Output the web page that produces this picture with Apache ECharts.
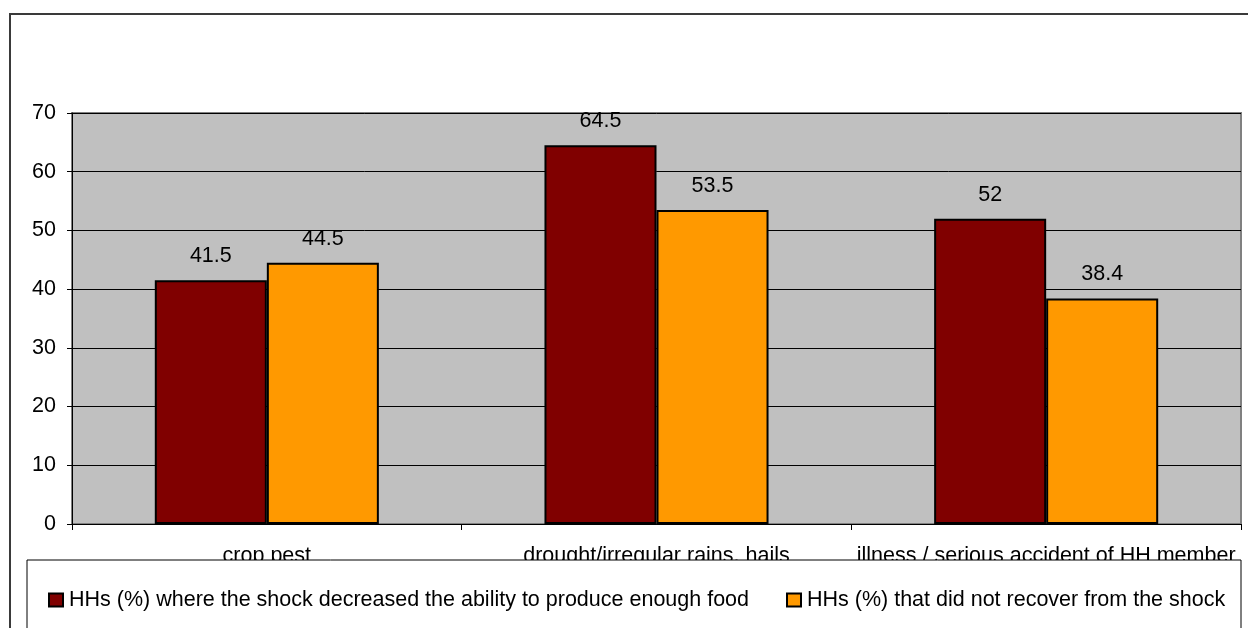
<!DOCTYPE html>
<html>
<head>
<meta charset="utf-8">
<script src="https://cdn.jsdelivr.net/npm/echarts@6/dist/echarts.min.js"></script>
<style>
  html, body { margin: 0; padding: 0; background: #fff; }
  #chart { width: 1248px; height: 628px; }
</style>
</head>
<body>
<div id="chart"></div>
<script>
// Shock types and the share of households affected
const categories = ['crop pest', 'drought/irregular rains, hails', 'illness / serious accident of HH member'];
const seriesNames = [
  'HHs (%) where the shock decreased the ability to produce enough food',
  'HHs (%) that did not recover from the shock'
];
const decreasedFood = [41.5, 64.5, 52];
const notRecovered = [44.5, 53.5, 38.4];
const yTicks = { min: 0, max: 70, interval: 10 };

const FONT = '"Liberation Sans", Arial, sans-serif';
const FS = 21.5;
const chart = echarts.init(document.getElementById('chart'), null, { renderer: 'canvas' });

const barLabel = {
  show: true,
  position: 'top',
  distance: 13,
  color: '#000',
  fontSize: FS,
  fontFamily: FONT
};

const legendCommon = {
  top: 584,
  icon: 'rect',
  itemWidth: 14, itemHeight: 13,
  itemGap: 5,
  itemStyle: { borderColor: '#000', borderWidth: 2 },
  textStyle: { color: '#000', fontSize: FS, fontFamily: FONT, padding: [0, 0, 0, 1] },
  z: 60
};

chart.setOption({
  animation: false,
  backgroundColor: '#fff',
  textStyle: { fontFamily: FONT },
  grid: {
    left: 72, right: 7, top: 113, bottom: 104,
    show: true,
    backgroundColor: '#C0C0C0',
    borderColor: '#808080',
    borderWidth: 2
  },
  xAxis: {
    type: 'category',
    data: categories,
    axisLine: { lineStyle: { color: '#000', width: 1 } },
    axisTick: { show: true, length: 6, lineStyle: { color: '#000' } },
    axisLabel: { color: '#000', fontSize: FS, fontFamily: FONT, margin: 21, interval: 0 },
    z: 3
  },
  yAxis: {
    type: 'value',
    min: yTicks.min, max: yTicks.max, interval: yTicks.interval,
    axisLine: { show: true, lineStyle: { color: '#000', width: 1 } },
    axisTick: { show: true, length: 5, lineStyle: { color: '#000' } },
    axisLabel: { color: '#000', fontSize: FS, fontFamily: FONT, margin: 16 },
    splitLine: { show: true, lineStyle: { color: '#000', width: 1 } },
    z: 3
  },
  legend: [
    Object.assign({ data: [seriesNames[0]], left: 43 }, legendCommon),
    Object.assign({ data: [seriesNames[1]], left: 781 }, legendCommon)
  ],
  graphic: [
    {
      type: 'rect',
      z: 50,
      shape: { x: 27, y: 560, width: 1214, height: 100 },
      style: { fill: '#fff', stroke: '#000', lineWidth: 1 }
    },
    {
      type: 'rect',
      z: 55,
      shape: { x: 10, y: 14, width: 1260, height: 640 },
      style: { fill: 'none', stroke: '#3a3a3a', lineWidth: 2 }
    }
  ],
  series: [
    {
      name: seriesNames[0],
      type: 'bar',
      data: decreasedFood,
      barGap: '0%',
      barCategoryGap: '42.5%',
      itemStyle: { color: '#800000', borderColor: '#000', borderWidth: 2 },
      label: barLabel,
      z: 4
    },
    {
      name: seriesNames[1],
      type: 'bar',
      data: notRecovered,
      itemStyle: { color: '#FF9900', borderColor: '#000', borderWidth: 2 },
      label: barLabel,
      z: 4
    }
  ]
});
</script>
</body>
</html>
